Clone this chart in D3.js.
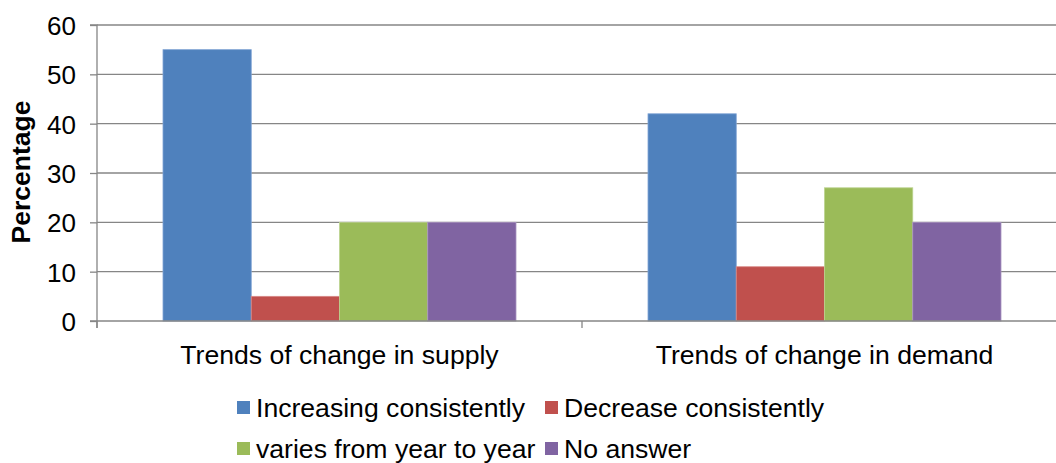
<!DOCTYPE html>
<html>
<head>
<meta charset="utf-8">
<script src="https://cdn.jsdelivr.net/npm/d3@7"></script>
<style>
  html, body { margin: 0; padding: 0; background: #fff; }
  svg { display: block; font-family: "Liberation Sans", Arial, sans-serif; }
</style>
</head>
<body>
<svg id="chart" width="1056" height="463"></svg>
<script>
const categories = ["Trends of change in supply", "Trends of change in demand"];
const seriesNames = ["Increasing consistently", "Decrease consistently", "varies from year to year", "No answer"];
const increasing = [55, 42];
const decreasing = [5, 11];
const varies = [20, 27];
const noAnswer = [20, 20];
const yTicks = [0, 10, 20, 30, 40, 50, 60];
const colors = ["#4F81BD", "#C0504D", "#9BBB59", "#8064A2"];
const strokes = ["#7FA3D4", "#D88A88", "#BCD38F", "#A893C1"];
const seriesValues = [increasing, decreasing, varies, noAnswer];

(function () {
const svg = d3.select("#chart");
const pLeft = 97, pRight = 1067, pTop = 25, pBottom = 321;

const x0 = d3.scaleBand().domain(categories).range([pLeft, pRight]).padding(0);
const x1 = d3.scaleBand().domain(seriesNames).range([66, 66 + 353]).padding(0);
const y = d3.scaleLinear().domain([0, 60]).range([pBottom, pTop]);

const gridColor = "#868686";

// gridlines
svg.append("g").selectAll("line").data(yTicks.filter(d => d !== 0)).join("line")
  .attr("x1", pLeft).attr("x2", pRight)
  .attr("y1", d => y(d)).attr("y2", d => y(d))
  .attr("stroke", gridColor).attr("stroke-width", 1.3);

// bars
const groups = svg.append("g").selectAll("g").data(categories).join("g")
  .attr("transform", d => `translate(${x0(d)},0)`);
groups.selectAll("rect").data((c, ci) => seriesNames.map((s, si) => ({ s, si, v: seriesValues[si][ci] })))
  .join("rect")
  .attr("x", d => x1(d.s))
  .attr("width", x1.bandwidth())
  .attr("y", d => y(d.v))
  .attr("height", d => y(0) - y(d.v))
  .attr("fill", d => colors[d.si])
  .attr("stroke", d => strokes[d.si])
  .attr("stroke-width", 0.8);

// y axis
const yAxis = d3.axisLeft(y).tickValues(yTicks).tickSize(7).tickPadding(14).tickFormat(d3.format("d"));
const gy = svg.append("g").attr("transform", `translate(${pLeft},0)`).call(yAxis);
gy.select(".domain").attr("stroke", gridColor).attr("stroke-width", 1.3).attr("d", `M-7,${pTop}H0V${pBottom + 7}`);
gy.selectAll(".tick line").attr("stroke", gridColor).attr("stroke-width", 1.3);
gy.selectAll(".tick text").attr("font-size", 26).attr("fill", "#000")
  .attr("font-family", "'Liberation Sans', Arial, sans-serif").attr("dy", "0.36em");

// x axis
const gx = svg.append("g").attr("transform", `translate(0,${pBottom})`);
gx.append("line").attr("x1", pLeft - 7).attr("x2", pRight).attr("y1", 0).attr("y2", 0)
  .attr("stroke", gridColor).attr("stroke-width", 1.3);
const boundaries = [x0(categories[0]), x0(categories[1]), x0(categories[1]) + x0.bandwidth()];
gx.selectAll("line.tk").data(boundaries).join("line").attr("class", "tk")
  .attr("x1", d => d).attr("x2", d => d).attr("y1", 0).attr("y2", 7)
  .attr("stroke", gridColor).attr("stroke-width", 1.3);
gx.selectAll("text").data(categories).join("text")
  .attr("x", d => x0(d) + x0.bandwidth() / 2)
  .attr("y", 43)
  .attr("text-anchor", "middle")
  .attr("font-size", 26.6)
  .attr("fill", "#000")
  .text(d => d);

// y axis title
svg.append("text")
  .attr("transform", "translate(30,172) rotate(-90)")
  .attr("text-anchor", "middle")
  .attr("font-size", 26.5)
  .attr("font-weight", "bold")
  .attr("fill", "#000")
  .text("Percentage");

// legend
const legendPos = [[237, 401], [545, 401], [237, 442], [545, 442]];
const lg = svg.append("g").selectAll("g").data(seriesNames).join("g")
  .attr("transform", (d, i) => `translate(${legendPos[i][0]},${legendPos[i][1]})`);
lg.append("rect").attr("width", 13).attr("height", 13).attr("fill", (d, i) => colors[i]);
lg.append("text").attr("x", 19).attr("y", 15.5).attr("font-size", 26.6).attr("fill", "#000").text(d => d);
})();
</script>
</body>
</html>
